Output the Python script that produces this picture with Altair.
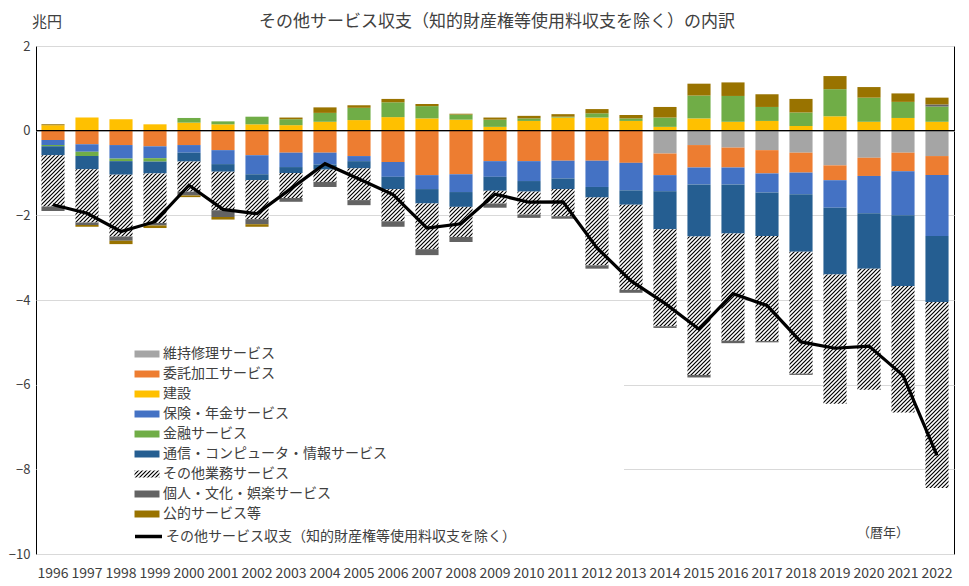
import altair as alt
import pandas as pd
import jinja2

# ---------------- data (兆円) ----------------
years = [str(y) for y in range(1996, 2023)]

series_names = [
    "維持修理サービス",
    "委託加工サービス",
    "建設",
    "保険・年金サービス",
    "金融サービス",
    "通信・コンピュータ・情報サービス",
    "その他業務サービス",
    "個人・文化・娯楽サービス",
    "公的サービス等",
]
line_name = "その他サービス収支（知的財産権等使用料収支を除く）"
title_text = "その他サービス収支（知的財産権等使用料収支を除く）の内訳"

maintenance = [0, 0, 0, 0, 0, 0, 0, 0, 0, 0, 0, 0, 0, 0, 0, 0, 0, 0,
               -0.54, -0.34, -0.40, -0.46, -0.52, -0.82, -0.64, -0.52, -0.60]
processing = [-0.22, -0.32, -0.34, -0.37, -0.34, -0.46, -0.58, -0.52, -0.52, -0.60,
              -0.74, -1.05, -1.03, -0.72, -0.72, -0.71, -0.71, -0.76,
              -0.51, -0.53, -0.47, -0.55, -0.47, -0.35, -0.43, -0.44, -0.45]
construction = [0.13, 0.31, 0.27, 0.15, 0.19, 0.15, 0.15, 0.13, 0.21, 0.25,
                0.32, 0.29, 0.26, 0.09, 0.23, 0.31, 0.31, 0.23,
                0.09, 0.29, 0.21, 0.23, 0.11, 0.34, 0.21, 0.30, 0.21]
insurance = [-0.12, -0.18, -0.32, -0.28, -0.18, -0.33, -0.45, -0.34, -0.28, -0.12,
             -0.35, -0.33, -0.42, -0.37, -0.47, -0.42, -0.62, -0.65,
             -0.38, -0.40, -0.40, -0.45, -0.51, -0.65, -0.88, -1.04, -1.44]
financial = [-0.03, -0.10, -0.06, -0.08, 0.11, 0.07, 0.18, 0.14, 0.21, 0.29,
             0.35, 0.29, 0.12, 0.17, 0.06, 0.02, 0.10, 0.06,
             0.22, 0.54, 0.61, 0.33, 0.32, 0.64, 0.57, 0.38, 0.36]
telecom = [-0.21, -0.31, -0.32, -0.28, -0.21, -0.18, -0.14, -0.14, -0.12, -0.17,
           -0.29, -0.34, -0.35, -0.33, -0.25, -0.25, -0.25, -0.34,
           -0.90, -1.23, -1.16, -1.03, -1.36, -1.58, -1.31, -1.67, -1.56]
other_business = [-1.21, -1.26, -1.46, -1.17, -0.71, -0.91, -0.92, -0.59, -0.29, -0.75,
                  -0.76, -1.08, -0.71, -0.30, -0.54, -0.64, -1.60, -2.01,
                  -2.29, -3.27, -2.53, -2.48, -2.88, -3.05, -2.86, -2.99, -4.39]
personal = [-0.11, -0.06, -0.10, -0.06, -0.09, -0.16, -0.12, -0.09, -0.12, -0.12,
            -0.13, -0.14, -0.12, -0.10, -0.08, -0.06, -0.08, -0.07,
            -0.04, -0.06, -0.06, -0.03, -0.03, 0, 0, 0, 0.05]
government = [0.02, -0.04, -0.08, -0.06, -0.04, -0.06, -0.06, 0.04, 0.13, 0.06,
              0.08, 0.05, 0.02, 0.05, 0.06, 0.06, 0.10, 0.08,
              0.25, 0.28, 0.32, 0.30, 0.32, 0.31, 0.25, 0.20, 0.16]
total_line = [-1.75, -1.95, -2.38, -2.15, -1.29, -1.86, -1.96, -1.37, -0.78, -1.14,
              -1.51, -2.30, -2.20, -1.50, -1.69, -1.68, -2.77, -3.55,
              -4.08, -4.69, -3.85, -4.13, -4.99, -5.14, -5.09, -5.78, -7.67]

series_values = [maintenance, processing, construction, insurance, financial,
                 telecom, other_business, personal, government]
series_colors = ["#A5A5A5", "#ED7D31", "#FFC000", "#4472C4", "#70AD47",
                 "#255E91", "url(#hatch)", "#636363", "#997300"]

rows = []
for k, (name, vals) in enumerate(zip(series_names, series_values)):
    for yr, v in zip(years, vals):
        rows.append({"year": yr, "series": name, "value": v, "ord": k})
df_bars = pd.DataFrame(rows)
df_line = pd.DataFrame({"year": years, "total": total_line, "name": [line_name] * len(years)})

FONT = "Noto Sans CJK JP"
TXT = "#404040"

x_enc = dict(
    scale=alt.Scale(paddingInner=0.32, paddingOuter=0.16),
    axis=alt.Axis(labelAngle=0, labelFontSize=14, labelFont=FONT, labelColor=TXT,
                  labelPadding=12, ticks=False, tickSize=0, domain=False, grid=False,
                  title=None, labelOverlap=False),
)
y_scale = alt.Scale(domain=[-10, 2], nice=False, zero=False)
y_axis = alt.Axis(values=list(range(-10, 3, 2)), labelFontSize=13, labelFont=FONT,
                  labelColor=TXT, labelPadding=6, ticks=False, tickSize=0, domain=False,
                  grid=True, gridColor="#D9D9D9", gridWidth=1, title=None)

# white legend box (hides grid lines behind the legend, as in the original)
legend_box = alt.Chart(pd.DataFrame({"a": [0]})).mark_rect(color="white").encode(
    x=alt.value(1), x2=alt.value(588), y=alt.value(262), y2=alt.value(506)
)

bars = alt.Chart(df_bars).mark_bar().encode(
    x=alt.X("year:O", **x_enc),
    y=alt.Y("value:Q", stack="zero", scale=y_scale, axis=y_axis),
    color=alt.Color(
        "series:N",
        scale=alt.Scale(domain=series_names, range=series_colors),
        legend=alt.Legend(orient="none", legendX=104, legendY=301, title=None,
                          symbolType="M-2,-0.56L2,-0.56L2,0.56L-2,0.56Z", symbolSize=156,
                          symbolStrokeWidth=0, labelFont=FONT, labelFontSize=14,
                          labelColor=TXT, labelOffset=9, rowPadding=6, padding=0,
                          labelLimit=600),
    ),
    order=alt.Order("ord:Q", sort="ascending"),
)

zero_rule = alt.Chart(pd.DataFrame({"v": [0]})).mark_rule(color="black", strokeWidth=1.3).encode(
    y=alt.Y("v:Q", scale=y_scale, axis=y_axis)
)

line = alt.Chart(df_line).mark_line(strokeWidth=3.2).encode(
    x=alt.X("year:O", **x_enc),
    y=alt.Y("total:Q", scale=y_scale, axis=y_axis),
    stroke=alt.Stroke(
        "name:N",
        scale=alt.Scale(domain=[line_name], range=["black"]),
        legend=alt.Legend(orient="none", legendX=104, legendY=482, title=None,
                          symbolType="M-2,0L2,0", symbolSize=182, symbolStrokeWidth=3.5,
                          labelFont=FONT, labelFontSize=14, labelColor=TXT,
                          labelOffset=9, padding=0, labelLimit=600),
    ),
)

title_mark = alt.Chart(pd.DataFrame({"t": [title_text]})).mark_text(
    font=FONT, fontSize=17, color=TXT, align="center", baseline="middle"
).encode(x=alt.value(461), y=alt.value(-24), text="t:N")

unit_text = alt.Chart(pd.DataFrame({"t": ["兆円"]})).mark_text(
    font=FONT, fontSize=15, color=TXT, align="center", baseline="middle"
).encode(x=alt.value(11), y=alt.value(-24), text="t:N")

year_text = alt.Chart(pd.DataFrame({"t": ["（暦年）"]})).mark_text(
    font=FONT, fontSize=13, color=TXT, align="center", baseline="middle"
).encode(x=alt.value(847), y=alt.value(487), text="t:N")

chart = alt.layer(legend_box, bars, zero_rule, line, title_mark, unit_text, year_text).properties(
    width=918,
    height=508,
    autosize=alt.AutoSizeParams(type="none"),
    padding={"left": 28, "top": 38, "right": 7, "bottom": 30},
).configure_view(stroke="black", strokeWidth=1)

EMBED = {"renderer": "svg", "actions": False}

# hatch pattern definition used by the "その他業務サービス" fill
HATCH_DEFS = (
    '<svg width="0" height="0" style="position:absolute;width:0;height:0" aria-hidden="true">'
    '<defs><pattern id="hatch" patternUnits="userSpaceOnUse" width="4" height="4">'
    '<rect width="4" height="4" fill="#ffffff"/>'
    '<path d="M-1,1 L1,-1 M0,4 L4,0 M3,5 L5,3" stroke="#000000" stroke-width="1.2"/>'
    '</pattern></defs></svg>'
)

try:
    html = chart.to_html(embed_options=EMBED)
    if "<body>" in html:
        html = html.replace("<body>", "<body>\n" + HATCH_DEFS, 1)
    else:
        html = HATCH_DEFS + html
    tmpl = jinja2.Template("{% raw %}" + html + "{% endraw %}")
    chart.save("out.html", embed_options=EMBED, template=tmpl)
except Exception:
    chart.save("out.html", embed_options=EMBED)
